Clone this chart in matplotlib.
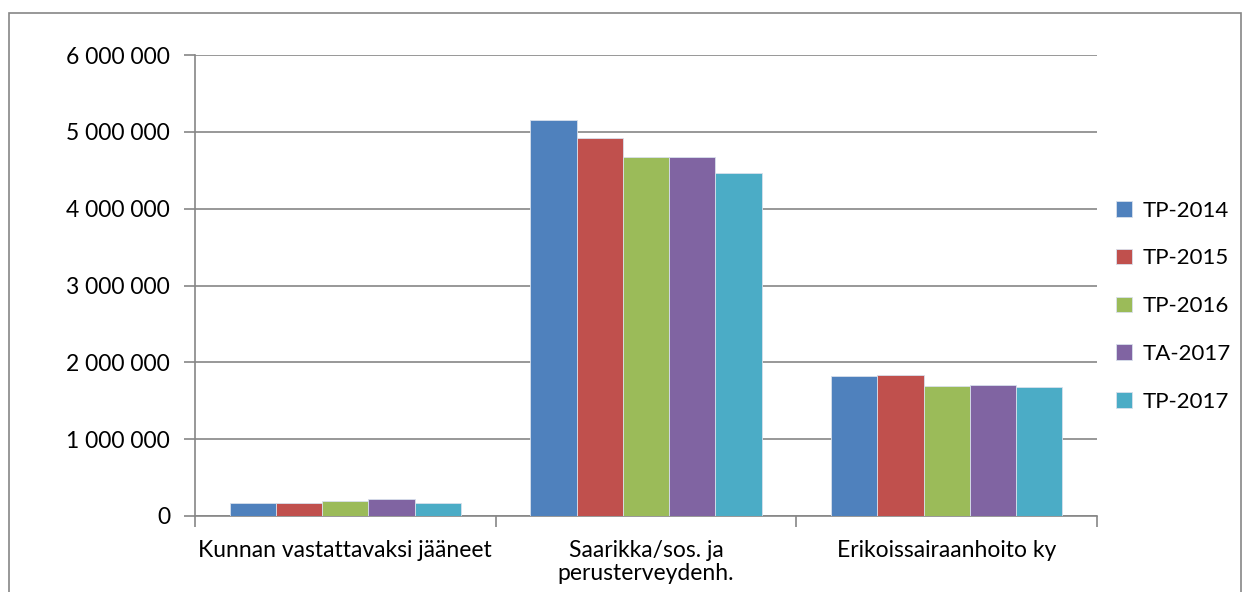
import numpy as np
import matplotlib.pyplot as plt
from matplotlib.ticker import FuncFormatter, FixedLocator
from matplotlib.patches import Rectangle

plt.rcParams['font.family'] = ['Lato', 'DejaVu Sans']

categories = ["Kunnan vastattavaksi jääneet", "Saarikka/sos. ja\nperusterveydenh.", "Erikoissairaanhoito ky"]
series = ["TP-2014", "TP-2015", "TP-2016", "TA-2017", "TP-2017"]
tp2014 = [165000, 5150000, 1820000]
tp2015 = [165000, 4920000, 1840000]
tp2016 = [190000, 4670000, 1690000]
ta2017 = [215000, 4670000, 1710000]
tp2017 = [165000, 4470000, 1685000]
colors = ["#4F81BD", "#C0504D", "#9BBB59", "#8064A2", "#4BACC6"]

values = [tp2014, tp2015, tp2016, ta2017, tp2017]

fig = plt.figure(figsize=(12.49, 5.92), dpi=100)
W, H = 1249, 592
# outer chart border
fig.patches.append(Rectangle((9 / W, 1 - 640 / H), (1241 - 9) / W, (640 - 13) / H,
                             transform=fig.transFigure, fill=False, edgecolor="#868686", lw=1.2))

ax = fig.add_axes([195 / W, 1 - 516 / H, (1097 - 195) / W, (516 - 55) / H])

n = len(series)
bw = 1 / (n + 1.5)
x = np.arange(len(categories))
for i, (s, v, c) in enumerate(zip(series, values, colors)):
    ax.bar(x - n * bw / 2 + bw * (i + 0.5), v, width=bw, color=c, label=s,
           edgecolor="#d8e0ec", linewidth=0.6, zorder=3)

ax.set_xlim(-0.5, 2.5)
ax.set_ylim(0, 6000000)
ax.yaxis.set_major_locator(FixedLocator(np.arange(0, 6000001, 1000000)))
ax.yaxis.set_major_formatter(FuncFormatter(lambda v, p: f"{int(v):,}".replace(",", " ")))
ax.grid(axis="y", color="#868686", lw=1.2, zorder=0)
for sp in ["top", "right"]:
    ax.spines[sp].set_visible(False)
for sp in ["left", "bottom"]:
    ax.spines[sp].set_color("#868686")
    ax.spines[sp].set_linewidth(1.2)

ax.set_xticks([-0.5, 0.5, 1.5, 2.5])
ax.set_xticklabels([])
ax.set_xticks(x, minor=True)
ax.set_xticklabels(categories, minor=True, fontsize=16.5, color="#000000", linespacing=1.15, va="top")
ax.tick_params(axis="x", which="major", length=8, color="#868686", width=1.2)
ax.tick_params(axis="x", which="minor", length=0, pad=17)
ax.tick_params(axis="y", length=8, color="#868686", width=1.2, labelsize=16.5, pad=10)

ax.legend(loc="center left", bbox_to_anchor=(0.999, 0.455), frameon=False, fontsize=16,
          handlelength=0.7, handleheight=0.7, handletextpad=0.5, labelspacing=1.25)

fig.savefig("out.png", dpi=100)
